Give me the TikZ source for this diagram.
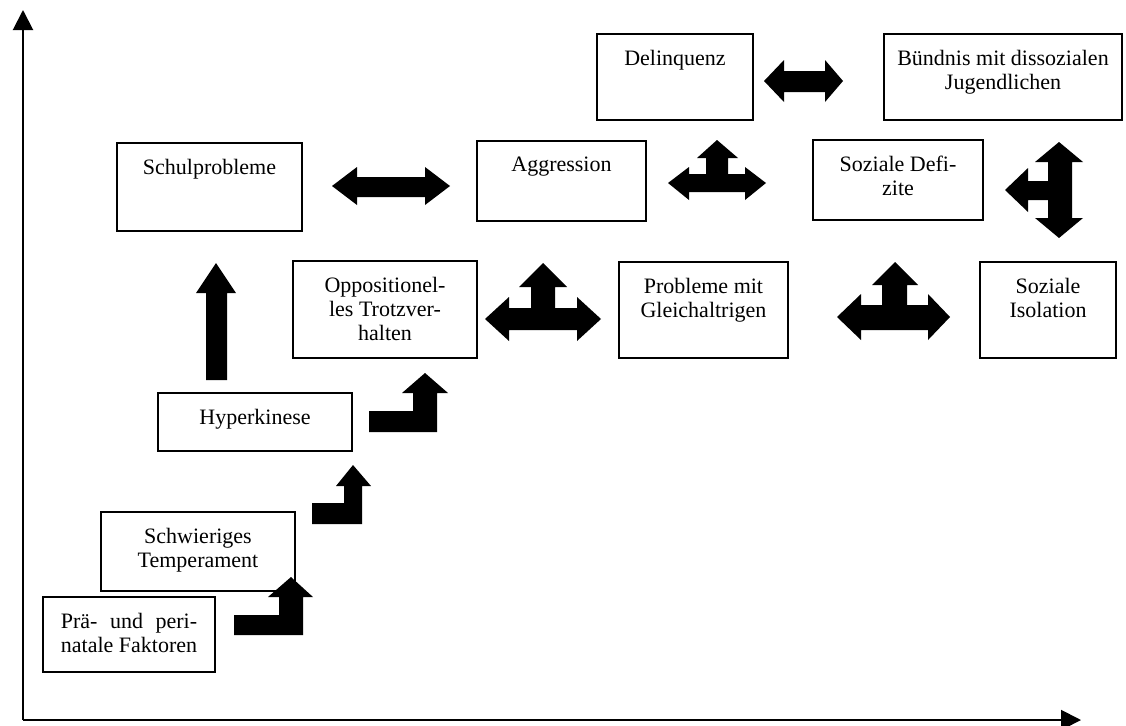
\documentclass[tikz,border=0pt]{standalone}
\usepackage{fontspec}
\setmainfont{Liberation Serif}
\usepackage{calc}
\usetikzlibrary{arrows.meta,fit}

\begin{document}
\begin{tikzpicture}[
		x=0.75pt, y=-0.75pt,
		box/.style={draw, line width=1.5pt, inner sep=0pt},
		boxtext/.style={anchor=north, yshift=-12.75pt, inner sep=0pt, align=center,
			font=\fontsize{16.5}{18}\selectfont},
		blockarrow/.style={fill=black},
		>={Triangle[length=15pt,width=15pt]}]
	\useasboundingbox (0,0) rectangle (1126,725);
	%% axes
	\coordinate (orig) at (23,720);
	\coordinate (ytip) at (23,10);
	\coordinate (xtip) at (1081,720);
	\draw[->,line width=1.5pt] (orig) -- (ytip);
	\draw[->,line width=1.5pt] (orig) -- (xtip);
	%% boxes
	\node[box, fit={(43,597) (215,672)}, label={[boxtext]north:{\makebox[\widthof{natale Faktoren}][s]{Prä- und peri-}\\natale Faktoren}}] (praefak) {};
	\node[box, fit={(101,512) (295,591)}, label={[boxtext]north:{Schwieriges\\Temperament}}] (temper) {};
	\node[box, fit={(158,393) (352,451)}, label={[boxtext]north:{Hyperkinese}}] (hyper) {};
	\node[box, fit={(117,143) (302,231)}, label={[boxtext]north:{Schulprobleme}}] (schule) {};
	\node[box, fit={(293,261) (477,358)}, label={[boxtext]north:{Oppositionel-\\les Trotzver-\\halten}}] (trotz) {};
	\node[box, fit={(477,141) (646,221)}, label={[boxtext]north:{Aggression}}] (aggr) {};
	\node[box, fit={(619,262) (788,358)}, label={[boxtext]north:{Probleme mit\\Gleichaltrigen}}] (peers) {};
	\node[box, fit={(597,34) (753,120)}, label={[boxtext]north:{Delinquenz}}] (delinq) {};
	\node[box, fit={(884,34) (1122,120)}, label={[boxtext]north:{Bündnis mit dissozialen\\Jugendlichen}}] (buendnis) {};
	\node[box, fit={(813,140) (983,220)}, label={[boxtext]north:{Soziale Defi-\\zite}}] (defizit) {};
	\node[box, fit={(980,262) (1116,358)}, label={[boxtext]north:{Soziale\\Isolation}}] (isol) {};
	%% step arrows
	\fill[blockarrow] (234,615) -- (279,615) -- (279,597) -- (268,597) -- (291,577) -- (313,597) -- (303,597) -- (303,635) -- (234,635) -- cycle;
	\fill[blockarrow] (312,503) -- (344,503) -- (344,486) -- (336,486) -- (353,465) -- (371,486) -- (362,486) -- (362,524) -- (312,524) -- cycle;
	\fill[blockarrow] (369,411) -- (413,411) -- (413,393) -- (402,393) -- (425,373) -- (448,393) -- (437,393) -- (437,432) -- (369,432) -- cycle;
	\fill[blockarrow] (206,380) -- (206,293) -- (196,293) -- (216,263) -- (236,293) -- (227,293) -- (227,380) -- cycle;
	%% double arrows
	\fill[blockarrow] (332,186) -- (357,167) -- (357,177) -- (425,177) -- (425,167) -- (450,186) -- (425,205) -- (425,197) -- (357,197) -- (357,205) -- cycle;
	\fill[blockarrow] (764,81) -- (784,60) -- (784,71) -- (825,71) -- (825,60) -- (843,81) -- (825,102) -- (825,92) -- (784,92) -- (784,102) -- cycle;
	%% three-way arrows
	\fill[blockarrow] (668,183) -- (689,167) -- (689,174) -- (706,174) -- (706,158) -- (697,158) -- (717,140) -- (738,158) -- (728,158) -- (728,174) -- (745,174) -- (745,167) -- (766,183) -- (745,200) -- (745,192) -- (689,192) -- (689,200) -- cycle;
	\fill[blockarrow] (485,319) -- (509,297) -- (509,308) -- (531,308) -- (531,287) -- (519,287) -- (543,263) -- (567,287) -- (555,287) -- (555,308) -- (577,308) -- (577,297) -- (601,319) -- (577,341) -- (577,330) -- (509,330) -- (509,341) -- cycle;
	\fill[blockarrow] (837,317) -- (861,294) -- (861,305) -- (882,305) -- (882,285) -- (872,285) -- (895,262) -- (918,285) -- (907,285) -- (907,305) -- (928,305) -- (928,294) -- (950,317) -- (928,340) -- (928,330) -- (861,330) -- (861,340) -- cycle;
	\fill[blockarrow] (1059,142) -- (1083,162) -- (1072,162) -- (1072,218) -- (1083,218) -- (1059,238) -- (1035,218) -- (1048,218) -- (1048,200) -- (1028,200) -- (1028,212) -- (1005,190) -- (1028,168) -- (1028,181) -- (1048,181) -- (1048,162) -- (1035,162) -- cycle;
\end{tikzpicture}
\end{document}
